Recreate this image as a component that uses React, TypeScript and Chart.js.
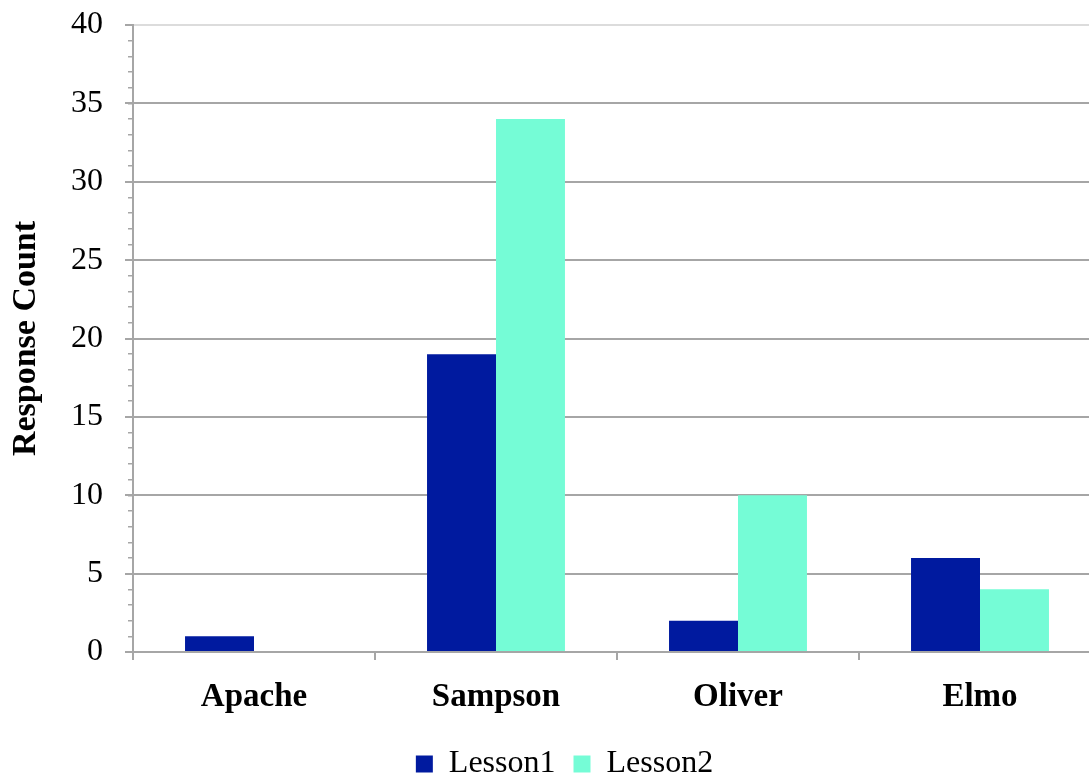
import React, { useEffect, useRef } from "react";
import { Chart, registerables } from "chart.js";

Chart.register(...registerables);

const categories = ["Apache", "Sampson", "Oliver", "Elmo"];
const seriesNames = ["Lesson1", "Lesson2"];
const lesson1 = [1, 19, 2, 6];
const lesson2 = [0, 34, 10, 4];
const yTitle = "Response Count";
const yMin = 0;
const yMax = 40;
const yMajorStep = 5;
const yMinorStep = 1;

const FONT = "'Liberation Serif', 'Times New Roman', serif";
const AXIS_GRAY = "#a6a6a6";

export default function App() {
  const ref = useRef<HTMLCanvasElement>(null);

  useEffect(() => {
    if (!ref.current) return;
    const legendShift = {
      id: "legendShift",
      afterLayout(chart: any) {
        const l = chart.legend;
        if (l) {
          l.left += 14;
          l.right += 14;
          l.top += 13;
          l.bottom += 13;
        }
      },
    };
    const chart = new Chart(ref.current, {
      type: "bar",
      data: {
        labels: categories,
        datasets: [
          {
            label: seriesNames[0],
            data: lesson1,
            backgroundColor: "#001A9F",
            borderWidth: 0,
            categoryPercentage: 0.57,
            barPercentage: 1,
            yAxisID: "y",
          },
          {
            label: seriesNames[1],
            data: lesson2,
            backgroundColor: "#75FCD6",
            borderWidth: 0,
            categoryPercentage: 0.57,
            barPercentage: 1,
            yAxisID: "y",
          },
        ],
      },
      options: {
        responsive: false,
        animation: false,
        devicePixelRatio: 1,
        layout: { padding: { top: 25, right: 0, bottom: 0, left: 0 } },
        plugins: {
          legend: {
            position: "bottom",
            labels: {
              boxWidth: 17,
              boxHeight: 17,
              padding: 18,
              color: "#000",
              font: { family: FONT, size: 32 },
            },
          },
          tooltip: { enabled: false },
        },
        scales: {
          x: {
            grid: {
              display: true,
              drawOnChartArea: false,
              offset: true,
              color: AXIS_GRAY,
              lineWidth: 2,
              tickLength: 8,
            },
            border: { color: AXIS_GRAY, width: 2 },
            ticks: {
              color: "#000",
              font: { family: FONT, size: 33, weight: "bold" },
              padding: 18,
              maxRotation: 0,
              autoSkip: false,
            },
            afterFit(scale: any) {
              scale.height = 65;
              scale.paddingLeft = 0;
              scale.paddingRight = 0;
            },
          },
          y: {
            position: "left",
            weight: 1,
            min: yMin,
            max: yMax,
            ticks: {
              stepSize: yMajorStep,
              color: "#000",
              font: { family: FONT, size: 32 },
              padding: 22,
            },
            grid: {
              color: (ctx: any) => (ctx.tick && ctx.tick.value === yMax ? "#dcdcdc" : AXIS_GRAY),
              tickColor: AXIS_GRAY,
              lineWidth: 2,
              tickLength: 8,
            },
            border: { color: AXIS_GRAY, width: 2 },
            title: {
              display: true,
              text: yTitle,
              color: "#000",
              font: { family: FONT, size: 34, weight: "bold" },
              padding: { top: 6, bottom: 0 },
            },
            afterFit(scale: any) {
              scale.width = 133;
              scale.paddingTop = 0;
              scale.paddingBottom = 0;
            },
          },
          y2: {
            position: "left",
            weight: 0,
            min: yMin,
            max: yMax,
            ticks: { stepSize: yMinorStep, display: false },
            grid: {
              drawOnChartArea: false,
              color: AXIS_GRAY,
              tickColor: AXIS_GRAY,
              lineWidth: 1.5,
              tickLength: 5,
            },
            border: { display: false },
            afterFit(scale: any) {
              scale.width = 0;
              scale.paddingTop = 0;
              scale.paddingBottom = 0;
            },
          },
        },
      },
      plugins: [legendShift],
    } as any);
    return () => chart.destroy();
  }, []);

  return (
    <div
      style={{
        position: "absolute",
        left: 0,
        top: 0,
        width: 1089,
        height: 777,
        overflow: "hidden",
        background: "#fff",
      }}
    >
      <canvas ref={ref} width={1101} height={777} style={{ width: 1101, height: 777, display: "block" }} />
    </div>
  );
}
